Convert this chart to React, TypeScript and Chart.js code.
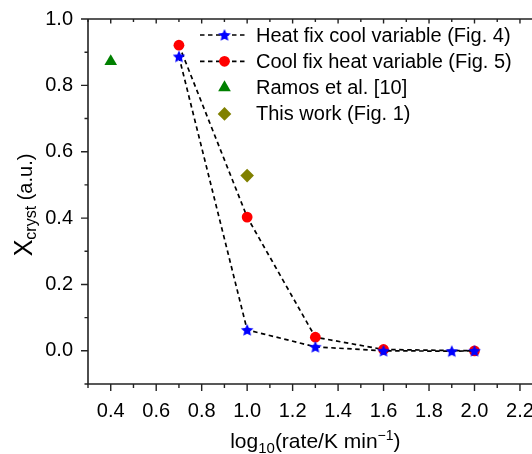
import React, { useEffect, useRef } from "react";
import { Chart, registerables } from "chart.js";

Chart.register(...registerables);

// ---- data ----
const heatFixX = [0.7, 1.0, 1.3, 1.6, 1.9, 2.0];
const heatFixY = [0.887, 0.063, 0.012, 0.0, -0.001, 0.0];
const coolFixX = [0.7, 1.0, 1.3, 1.6, 2.0];
const coolFixY = [0.921, 0.403, 0.041, 0.004, 0.0];
const ramosX = [0.4];
const ramosY = [0.872];
const thisWorkX = [1.0];
const thisWorkY = [0.528];
const seriesLabels = [
  "Heat fix cool variable (Fig. 4)",
  "Cool fix heat variable (Fig. 5)",
  "Ramos et al. [10]",
  "This work (Fig. 1)",
];
const xMin = 0.3;
const xMax = 2.3;
const yMin = -0.1;
const yMax = 1.0;
const tickStep = 0.1;

const FONT = '"Liberation Sans", Arial, Helvetica, sans-serif';
const AXIS_COLOR = "#222";

function makeStar(color: string, R: number) {
  const c = document.createElement("canvas");
  const s = Math.ceil(R * 2 + 2);
  c.width = s;
  c.height = s;
  const g = c.getContext("2d")!;
  const cx = s / 2;
  const cy = s / 2 + R * 0.08;
  const r = R * 0.47;
  g.beginPath();
  for (let i = 0; i < 10; i++) {
    const a = -Math.PI / 2 + (i * Math.PI) / 5;
    const rr = i % 2 === 0 ? R : r;
    const px = cx + Math.cos(a) * rr;
    const py = cy + Math.sin(a) * rr;
    if (i === 0) g.moveTo(px, py);
    else g.lineTo(px, py);
  }
  g.closePath();
  g.fillStyle = color;
  g.fill();
  return c;
}

function isMajor(v: number) {
  const k = Math.round(v * 10);
  return Math.abs(v * 10 - k) < 1e-6 && k % 2 === 0;
}

const axesPlugin = {
  id: "customAxes",
  afterDraw(chart: any) {
    const ctx = chart.ctx as CanvasRenderingContext2D;
    const { left, right, top, bottom } = chart.chartArea;
    const xs = chart.scales.x;
    const ys = chart.scales.y;
    ctx.save();
    ctx.strokeStyle = AXIS_COLOR;
    ctx.lineWidth = 1.6;
    ctx.beginPath();
    ctx.moveTo(left, top);
    ctx.lineTo(left, bottom);
    ctx.lineTo(right, bottom);
    ctx.moveTo(left, top);
    ctx.lineTo(right, top);
    ctx.stroke();
    ctx.lineWidth = 1.4;
    ctx.beginPath();
    xs.ticks.forEach((t: any) => {
      const v = t.value;
      if (v < xMin - 1e-9 || v > xMax + 1e-9) return;
      const px = xs.getPixelForValue(v);
      const major = isMajor(v);
      ctx.moveTo(px, bottom);
      ctx.lineTo(px, bottom + (major ? 7 : 4));
      ctx.moveTo(px, top);
      ctx.lineTo(px, top + (major ? 4.5 : 3));
    });
    ys.ticks.forEach((t: any) => {
      const v = t.value;
      const py = ys.getPixelForValue(v);
      const major = isMajor(v);
      ctx.moveTo(left, py);
      ctx.lineTo(left - (major ? 7 : 3.5), py);
    });
    ctx.stroke();

    // x title
    const cx = (left + right) / 2;
    const baseY = 448;
    const parts: [string, number, number][] = [
      ["log", 21, 0],
      ["10", 15, 5],
      ["(rate/K min", 21, 0],
      ["\u22121", 14, -8],
      [")", 21, 0],
    ];
    ctx.fillStyle = "#000";
    ctx.textBaseline = "alphabetic";
    ctx.textAlign = "left";
    let w = 0;
    parts.forEach(([s, f]) => {
      ctx.font = `${f}px ${FONT}`;
      w += ctx.measureText(s).width;
    });
    let x = cx - w / 2;
    parts.forEach(([s, f, dy]) => {
      ctx.font = `${f}px ${FONT}`;
      ctx.fillText(s, x, baseY + dy);
      x += ctx.measureText(s).width;
    });

    // y title (rotated)
    ctx.save();
    ctx.translate(24, 205);
    ctx.rotate(-Math.PI / 2);
    const yparts: [string, number, number][] = [
      ["X", 25, 0],
      ["cryst", 16, 4],
      [" (a.u.)", 20, 0],
    ];
    let wy = 0;
    yparts.forEach(([s, f]) => {
      ctx.font = `${f}px ${FONT}`;
      wy += ctx.measureText(s).width;
    });
    let lx = -wy / 2;
    yparts.forEach(([s, f, dy]) => {
      ctx.font = `${f}px ${FONT}`;
      ctx.fillText(s, lx, 8 + dy);
      lx += ctx.measureText(s).width;
    });
    ctx.restore();

    // legend
    const rowY0 = 35;
    const rowGap = 26.3;
    const lineX0 = 200;
    const lineX1 = 247;
    const markX = 224.5;
    const textX = 256;
    chart.data.datasets.forEach((ds: any, i: number) => {
      const yy = rowY0 + i * rowGap;
      if (ds.showLine) {
        ctx.save();
        ctx.strokeStyle = ds.borderColor;
        ctx.lineWidth = ds.borderWidth;
        ctx.setLineDash(ds.borderDash || []);
        ctx.beginPath();
        ctx.moveTo(lineX0, yy);
        ctx.lineTo(lineX1, yy);
        ctx.stroke();
        ctx.restore();
      }
      const ps = ds.pointStyle;
      if (ps instanceof HTMLCanvasElement) {
        ctx.drawImage(ps, markX - ps.width / 2, yy - ps.height / 2);
      } else {
        ctx.save();
        ctx.fillStyle = ds.pointBackgroundColor;
        const r = ds.pointRadius;
        ctx.beginPath();
        if (ps === "circle") {
          ctx.arc(markX, yy, r, 0, Math.PI * 2);
        } else if (ps === "triangle") {
          ctx.moveTo(markX, yy - r);
          ctx.lineTo(markX + r * Math.sin((2 * Math.PI) / 3), yy - r * Math.cos((2 * Math.PI) / 3));
          ctx.lineTo(markX + r * Math.sin((4 * Math.PI) / 3), yy - r * Math.cos((4 * Math.PI) / 3));
        } else if (ps === "rectRot") {
          ctx.moveTo(markX, yy - r);
          ctx.lineTo(markX + r, yy);
          ctx.lineTo(markX, yy + r);
          ctx.lineTo(markX - r, yy);
        }
        ctx.closePath();
        ctx.fill();
        ctx.restore();
      }
      ctx.fillStyle = "#000";
      ctx.font = `20px ${FONT}`;
      ctx.textBaseline = "middle";
      ctx.fillText(ds.label, textX, yy + 1);
    });
    ctx.restore();
  },
};

export default function App() {
  const ref = useRef<HTMLCanvasElement | null>(null);
  useEffect(() => {
    if (!ref.current) return;
    const star = makeStar("#0000ff", 6.6);
    const toPts = (xs: number[], ys: number[]) => xs.map((x, i) => ({ x, y: ys[i] }));
    const chart = new Chart(ref.current, {
      type: "scatter",
      data: {
        datasets: [
          {
            label: seriesLabels[0],
            data: toPts(heatFixX, heatFixY),
            showLine: true,
            borderColor: "#000",
            borderWidth: 1.7,
            borderDash: [4.5, 3.5],
            pointStyle: star as any,
            pointRadius: 6.6,
            pointBackgroundColor: "#0000ff",
            pointBorderColor: "#0000ff",
          },
          {
            label: seriesLabels[1],
            data: toPts(coolFixX, coolFixY),
            showLine: true,
            borderColor: "#000",
            borderWidth: 1.7,
            borderDash: [4.5, 3.5],
            pointStyle: "circle",
            pointRadius: 5.4,
            pointBorderWidth: 0,
            pointBackgroundColor: "#ff0000",
            pointBorderColor: "#ff0000",
          },
          {
            label: seriesLabels[2],
            data: toPts(ramosX, ramosY),
            showLine: false,
            pointStyle: "triangle",
            pointRadius: 7.3,
            pointBorderWidth: 0,
            pointBackgroundColor: "#008000",
            pointBorderColor: "#008000",
          },
          {
            label: seriesLabels[3],
            data: toPts(thisWorkX, thisWorkY),
            showLine: false,
            pointStyle: "rectRot",
            pointRadius: 6.8,
            pointBorderWidth: 0,
            pointBackgroundColor: "#808000",
            pointBorderColor: "#808000",
          },
        ] as any,
      },
      options: {
        animation: false,
        responsive: false,
        maintainAspectRatio: false,
        layout: { padding: { left: 0, top: 19, right: 0, bottom: 0 } },
        plugins: { legend: { display: false }, tooltip: { enabled: false } },
        scales: {
          x: {
            type: "linear",
            min: xMin,
            max: xMax,
            grid: { display: false },
            border: { display: false },
            ticks: {
              stepSize: tickStep,
              autoSkip: false,
              maxRotation: 0,
              padding: 7,
              color: "#000",
              font: { family: FONT, size: 20 },
              callback: (v: any) => (isMajor(Number(v)) ? Number(v).toFixed(1) : ""),
            },
            afterFit: (s: any) => {
              s.height = 70;
            },
          },
          y: {
            type: "linear",
            min: yMin,
            max: yMax,
            grid: { display: false },
            border: { display: false },
            ticks: {
              stepSize: tickStep,
              autoSkip: false,
              padding: 7,
              color: "#000",
              font: { family: FONT, size: 20 },
              callback: (v: any) => (isMajor(Number(v)) ? Number(v).toFixed(1) : ""),
            },
            afterFit: (s: any) => {
              s.width = 88;
            },
          },
        },
      },
      plugins: [axesPlugin],
    });
    return () => chart.destroy();
  }, []);
  return (
    <div
      style={{
        position: "fixed",
        left: 0,
        top: 0,
        width: 532,
        height: 454,
        overflow: "hidden",
        background: "#fff",
      }}
    >
      <canvas ref={ref} width={551} height={454} style={{ display: "block" }} />
    </div>
  );
}
